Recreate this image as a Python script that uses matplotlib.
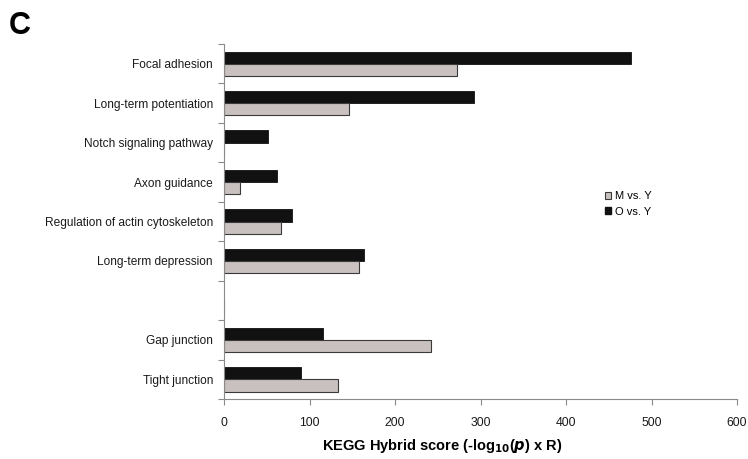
import numpy as np
import matplotlib.pyplot as plt
from matplotlib.patches import Patch

plt.rcParams['font.family'] = ['Liberation Sans', 'DejaVu Sans']

# KEGG pathways, top to bottom (blank slot separates the junction pathways)
pathways = ['Focal adhesion', 'Long-term potentiation', 'Notch signaling pathway',
            'Axon guidance', 'Regulation of actin cytoskeleton', 'Long-term depression',
            '', 'Gap junction', 'Tight junction']
o_vs_y = [476, 292, 51, 62, 80, 164, 0, 116, 90]
m_vs_y = [273, 146, 0, 19, 67, 158, 0, 242, 133]
xticks = [0, 100, 200, 300, 400, 500, 600]

grey = '#c9c1bf'
axis_col = '#8a8a8a'
h = 0.31

fig = plt.figure(figsize=(7.48, 4.59), dpi=100)
ax = fig.add_axes([0.2995, 0.1307, 0.6858, 0.7734])

y = np.arange(len(pathways))
ax.barh(y - h / 2, o_vs_y, height=h, color='#111111', edgecolor='#111111', linewidth=0.6)
ax.barh(y + h / 2, m_vs_y, height=h, color=grey, edgecolor='#3a3a3a', linewidth=0.8)

ax.set_ylim(len(pathways) - 0.5, -0.5)
ax.set_xlim(0, 600)
ax.set_xticks(xticks)
ax.set_yticks(y)
ax.set_yticklabels(pathways, fontsize=8.6, color='#1a1a1a')
ax.set_yticks(np.arange(-0.5, len(pathways), 1.0), minor=True)
ax.tick_params(axis='y', which='major', length=0, pad=8)
ax.tick_params(axis='y', which='minor', length=4, color=axis_col, width=0.8, direction='out')
ax.tick_params(axis='x', length=4, color=axis_col, width=0.8, direction='out',
               labelsize=8.8, labelcolor='#1a1a1a', pad=9)

for s in ['top', 'right']:
    ax.spines[s].set_visible(False)
for s in ['left', 'bottom']:
    ax.spines[s].set_color(axis_col)
    ax.spines[s].set_linewidth(0.8)

ax.set_xlabel(r'KEGG Hybrid score (-log$_{\mathbf{10}}$($\boldsymbol{p}$) x R)',
              fontsize=10.5, fontweight='bold', labelpad=6, x=0.425)

handles = [Patch(facecolor=grey, edgecolor='#3a3a3a', linewidth=0.8, label='M vs. Y'),
           Patch(facecolor='#111111', edgecolor='#111111', label='O vs. Y')]
fig.legend(handles=handles, loc='upper left', bbox_to_anchor=(0.795, 0.605),
           frameon=False, fontsize=8, handlelength=0.6, handleheight=0.6,
           handletextpad=0.3, labelspacing=0.5)

fig.text(0.012, 0.925, 'C', fontsize=22, fontweight='bold')

fig.savefig('out.png', dpi=100)
